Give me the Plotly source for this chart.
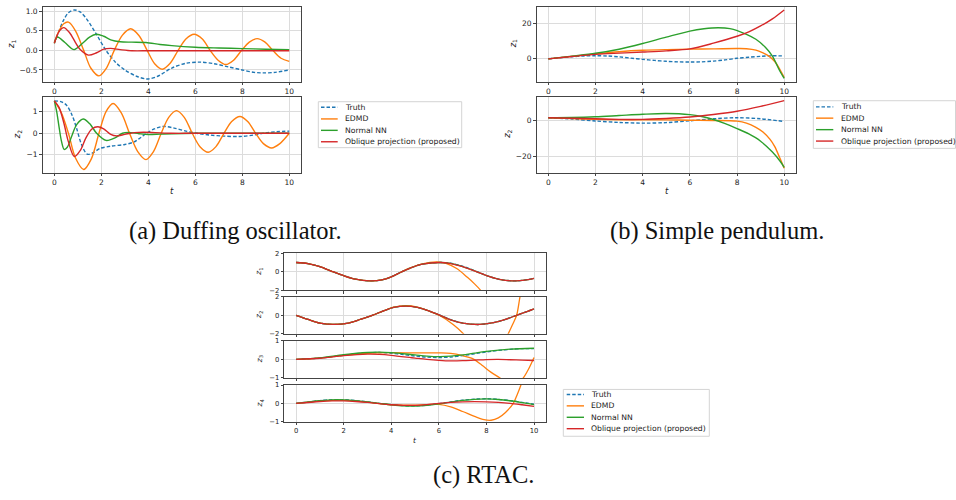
import plotly.graph_objects as go

W, H = 956, 500

BLUE, ORANGE, GREEN, RED = "#1f77b4", "#ff7f0e", "#2ca02c", "#d62728"
series_names = ["Truth", "EDMD", "Normal NN", "Oblique projection (proposed)"]
x_ticks = [0, 2, 4, 6, 8, 10]

# ================= (a) Duffing oscillator =================
a1_truth_t = [0, 0.2, 0.4, 0.6, 0.85, 1.1, 1.4, 1.8, 2.2, 2.6, 3.0, 3.5, 3.95, 4.4, 5.0, 5.6, 6.2, 6.8, 7.4, 8.0, 8.5, 8.9, 9.4, 10]
a1_truth = [0.2, 0.5, 0.78, 0.96, 1.03, 0.98, 0.78, 0.4, 0.0, -0.3, -0.5, -0.66, -0.73, -0.66, -0.45, -0.33, -0.3, -0.34, -0.42, -0.5, -0.56, -0.575, -0.56, -0.5]
a1_edmd_t = [0, 0.2, 0.4, 0.6, 0.9, 1.25, 1.55, 1.9, 2.22, 2.55, 2.9, 3.25, 3.6, 3.95, 4.27, 4.6, 4.93, 5.27, 5.6, 5.95, 6.3, 6.63, 6.97, 7.3, 7.63, 7.97, 8.3, 8.63, 8.97, 9.3, 9.65, 10]
a1_edmd = [0.2, 0.5, 0.68, 0.72, 0.5, 0.0, -0.45, -0.65, -0.45, 0.0, 0.39, 0.55, 0.38, 0.0, -0.34, -0.48, -0.33, 0.0, 0.29, 0.41, 0.29, 0.0, -0.25, -0.36, -0.25, 0.0, 0.21, 0.30, 0.21, 0.0, -0.2, -0.28]
a1_nn_t = [0, 0.13, 0.45, 0.84, 1.2, 1.5, 1.8, 2.1, 2.4, 2.8, 3.3, 3.9, 4.5, 5, 6, 7, 8, 9, 10]
a1_nn = [0.18, 0.34, 0.2, 0.02, 0.18, 0.34, 0.41, 0.36, 0.27, 0.22, 0.21, 0.2, 0.15, 0.12, 0.08, 0.06, 0.045, 0.03, 0.02]
a1_obl_t = [0, 0.2, 0.4, 0.65, 0.9, 1.1, 1.45, 1.8, 2.1, 2.4, 2.8, 3.3, 4, 5, 6, 8, 10]
a1_obl = [0.18, 0.48, 0.58, 0.45, 0.2, 0.02, -0.12, -0.06, 0.03, 0.05, 0.02, -0.01, -0.01, -0.01, -0.01, -0.01, -0.01]

a2_truth_t = [0, 0.3, 0.52, 0.75, 0.95, 1.15, 1.4, 1.65, 1.95, 2.4, 3.0, 3.4, 3.65, 3.93, 4.25, 4.64, 5.1, 5.6, 6.06, 6.6, 7.2, 7.9, 8.5, 9.0, 9.46, 10]
a2_truth = [1.5, 1.46, 1.3, 0.85, 0.22, -0.5, -0.97, -0.9, -0.7, -0.6, -0.52, -0.4, -0.22, 0.0, 0.2, 0.32, 0.24, 0.1, 0.0, -0.08, -0.13, -0.15, -0.08, 0.02, 0.07, 0.1]
a2_edmd_t = [0, 0.3, 0.6, 0.9, 1.25, 1.57, 1.9, 2.2, 2.5, 2.85, 3.2, 3.55, 3.9, 4.22, 4.55, 4.87, 5.2, 5.53, 5.87, 6.2, 6.55, 6.88, 7.22, 7.55, 7.9, 8.23, 8.57, 8.9, 9.25, 9.6, 10]
a2_edmd = [1.5, 0.95, 0.0, -1.15, -1.68, -1.2, 0.0, 1.0, 1.38, 0.95, 0.0, -0.85, -1.22, -0.85, 0.0, 0.74, 1.05, 0.74, 0.0, -0.62, -0.88, -0.62, 0.0, 0.55, 0.78, 0.55, 0.0, -0.48, -0.68, -0.48, 0.0]
a2_nn_t = [0, 0.1, 0.2, 0.3, 0.42, 0.55, 0.75, 0.95, 1.23, 1.5, 1.8, 2.2, 2.6, 2.9, 3.15, 3.6, 4.0, 4.5, 5, 6, 10]
a2_nn = [1.5, 1.0, 0.3, -0.35, -0.75, -0.65, -0.1, 0.4, 0.66, 0.45, 0.0, -0.33, -0.2, 0.0, 0.04, -0.02, -0.06, -0.04, -0.02, 0.0, 0.0]
a2_obl_t = [0, 0.2, 0.4, 0.6, 0.85, 1.1, 1.35, 1.6, 1.85, 2.1, 2.4, 2.65, 3.0, 3.4, 3.8, 4.3, 5, 6, 10]
a2_obl = [1.5, 1.2, 0.5, -0.4, -1.08, -0.8, -0.2, 0.2, 0.3, 0.2, -0.05, -0.12, -0.05, 0.03, 0.05, 0.03, 0.0, 0.0, 0.0]

# ================= (b) Simple pendulum =================
b1_truth_t = [0, 0.5, 1, 1.5, 2, 2.5, 3, 3.5, 4, 4.5, 5, 5.5, 6, 6.5, 7, 7.5, 8, 8.5, 9, 9.5, 10]
b1_truth = [0, 0.6, 1.2, 1.6, 1.75, 1.6, 1.1, 0.4, -0.3, -0.9, -1.4, -1.7, -1.8, -1.7, -1.3, -0.6, 0.3, 0.9, 1.4, 1.7, 1.6]
b1_edmd_t = [0, 1, 2, 3, 4, 5, 6, 7, 8, 8.4, 8.8, 9.1, 9.35, 9.6, 9.82, 10]
b1_edmd = [0, 1.4, 2.8, 4.0, 4.8, 5.2, 5.45, 5.6, 5.8, 5.7, 4.9, 3.3, 1.5, -1.5, -6, -10.5]
b1_nn_t = [0, 1, 2, 3, 4, 5, 6, 6.6, 7.2, 7.7, 8.4, 8.8, 9.2, 9.5, 9.82, 10]
b1_nn = [0, 1.5, 3.1, 5.4, 8.6, 12.2, 15.6, 16.9, 17.5, 17.0, 13.8, 11.0, 6.5, 1.5, -7, -11]
b1_obl_t = [0, 1, 2, 3, 4, 5, 6, 7, 8, 8.5, 9, 9.5, 10]
b1_obl = [0, 1.3, 2.5, 3.2, 3.8, 4.5, 5.6, 8.8, 12.7, 15.2, 18.5, 22.5, 27.5]

b2_truth_t = [0, 1, 2, 3, 4, 5, 6, 7, 8, 9, 10]
b2_truth = [1.5, 0.8, -0.3, -1.1, -1.5, -1.2, -0.2, 0.9, 1.5, 0.9, -0.6]
b2_edmd_t = [0, 1, 2, 3, 4, 5, 6, 7, 8, 8.4, 8.8, 9.1, 9.4, 9.6, 9.82, 10]
b2_edmd = [1.5, 1.0, 0.6, 0.4, 0.4, 0.3, 0.1, 0.0, -0.4, -1.5, -3.8, -6.4, -10.5, -14.5, -21, -26.5]
b2_nn_t = [0, 1, 2, 3, 4, 5, 6, 6.5, 7, 7.5, 8, 8.5, 9, 9.5, 9.82, 10]
b2_nn = [1.5, 1.6, 2.0, 2.7, 3.4, 3.8, 3.2, 2.2, 0.5, -1.8, -4.5, -7.5, -11.5, -17.5, -22.5, -26]
b2_obl_t = [0, 1, 2, 3, 4, 5, 6, 7, 8, 9, 10]
b2_obl = [1.5, 1.2, 0.9, 0.6, 0.6, 1.1, 1.9, 3.3, 5.1, 7.8, 11.0]

# ================= (c) RTAC =================
c1_truth_t = [0, 0.5, 1.0, 1.5, 2.0, 2.5, 3.1, 3.6, 4.0, 4.4, 4.8, 5.3, 6.05, 6.5, 7.0, 7.6, 8.1, 8.6, 9.25, 9.6, 10]
c1_truth = [1.0, 0.88, 0.55, 0.05, -0.42, -0.8, -0.98, -0.88, -0.55, -0.05, 0.4, 0.82, 1.0, 0.93, 0.6, 0.02, -0.48, -0.85, -0.98, -0.9, -0.7]
c1_edmd_t = [0, 0.5, 1.0, 1.5, 2.0, 2.5, 3.1, 3.6, 4.0, 4.4, 4.8, 5.3, 5.9, 6.3, 6.75, 7.2, 7.5, 7.76, 8.0]
c1_edmd = [1.0, 0.88, 0.55, 0.05, -0.42, -0.8, -0.98, -0.88, -0.55, -0.05, 0.42, 0.86, 1.08, 0.92, 0.35, -0.6, -1.3, -2.0, -2.8]
c1_nn_t = [0, 0.5, 1.0, 1.5, 2.0, 2.5, 3.1, 3.6, 4.0, 4.4, 4.8, 5.3, 6.05, 6.5, 7.0, 7.6, 8.1, 8.6, 9.25, 9.6, 10]
c1_nn = [1.0, 0.88, 0.55, 0.05, -0.42, -0.8, -0.98, -0.88, -0.55, -0.05, 0.4, 0.82, 1.0, 0.9, 0.56, 0.0, -0.5, -0.85, -0.98, -0.9, -0.7]
c1_obl_t = [0, 0.5, 1.0, 1.5, 2.0, 2.5, 3.1, 3.6, 4.0, 4.4, 4.8, 5.3, 6.05, 6.5, 7.0, 7.6, 8.1, 8.6, 9.25, 9.6, 10]
c1_obl = [1.0, 0.88, 0.55, 0.05, -0.42, -0.8, -0.98, -0.88, -0.55, -0.05, 0.4, 0.82, 1.0, 0.88, 0.55, 0.0, -0.5, -0.85, -0.98, -0.9, -0.7]

c2_truth_t = [0, 0.5, 1.0, 1.6, 2.2, 2.7, 3.2, 3.7, 4.1, 4.6, 5.1, 5.6, 6.05, 6.5, 7.0, 7.7, 8.3, 8.8, 9.27, 9.7, 10]
c2_truth = [0, -0.45, -0.85, -1.0, -0.85, -0.45, 0.0, 0.5, 0.85, 1.0, 0.85, 0.45, 0.02, -0.48, -0.85, -1.0, -0.8, -0.45, 0.0, 0.4, 0.7]
c2_edmd_t = [0, 0.5, 1.0, 1.6, 2.2, 2.7, 3.2, 3.7, 4.1, 4.6, 5.1, 5.6, 6.05, 6.6, 7.03, 7.5, 8.0, 8.5, 8.92, 9.1, 9.27, 9.41, 9.6]
c2_edmd = [0, -0.45, -0.85, -1.0, -0.85, -0.45, 0.0, 0.5, 0.88, 1.05, 0.9, 0.45, -0.05, -1.0, -2.0, -3.4, -4.4, -4.0, -2.0, -1.0, 0.0, 2.0, 4.5]
c2_nn_t = [0, 0.5, 1.0, 1.6, 2.2, 2.7, 3.2, 3.7, 4.1, 4.6, 5.1, 5.6, 6.05, 6.5, 7.0, 7.7, 8.3, 8.8, 9.27, 9.7, 10]
c2_nn = [0, -0.45, -0.85, -1.0, -0.85, -0.45, 0.0, 0.5, 0.85, 1.0, 0.85, 0.45, 0.0, -0.5, -0.85, -1.0, -0.8, -0.45, 0.0, 0.4, 0.7]
c2_obl_t = [0, 0.5, 1.0, 1.6, 2.2, 2.7, 3.2, 3.7, 4.1, 4.6, 5.1, 5.6, 6.05, 6.5, 7.0, 7.7, 8.3, 8.8, 9.27, 9.7, 10]
c2_obl = [0, -0.45, -0.85, -1.0, -0.85, -0.45, 0.0, 0.5, 0.85, 1.0, 0.85, 0.45, 0.0, -0.5, -0.85, -1.0, -0.8, -0.45, 0.0, 0.4, 0.7]

c3_truth_t = [0, 0.5, 1, 1.5, 2, 2.5, 3, 3.5, 4, 4.5, 5, 5.5, 6, 6.5, 7, 7.5, 8, 8.5, 9, 9.5, 10]
c3_truth = [0, 0.02, 0.07, 0.13, 0.22, 0.3, 0.35, 0.37, 0.33, 0.26, 0.18, 0.12, 0.1, 0.12, 0.2, 0.3, 0.4, 0.48, 0.54, 0.58, 0.58]
c3_edmd_t = [0, 1, 2, 3, 4, 5, 6.05, 6.5, 7.0, 7.4, 7.8, 8.2, 8.57, 9.0, 9.3, 9.55, 9.8, 10]
c3_edmd = [0, 0.07, 0.22, 0.33, 0.36, 0.35, 0.35, 0.32, 0.2, 0.05, -0.3, -0.7, -1.0, -1.4, -1.35, -1.0, -0.45, 0.1]
c3_nn_t = [0, 1, 2, 3, 3.5, 4, 5, 5.5, 6, 6.5, 7, 7.5, 8, 9, 10]
c3_nn = [0, 0.08, 0.25, 0.37, 0.39, 0.36, 0.24, 0.18, 0.15, 0.17, 0.24, 0.34, 0.43, 0.55, 0.6]
c3_obl_t = [0, 1, 2, 3, 3.5, 4, 5, 5.5, 6, 6.5, 7, 7.5, 8, 8.5, 9, 9.5, 10]
c3_obl = [0, 0.06, 0.2, 0.28, 0.27, 0.22, 0.07, 0.0, -0.05, -0.08, -0.07, -0.04, -0.01, 0.0, -0.02, -0.04, -0.06]

c4_truth_t = [0, 0.5, 1, 1.5, 2, 2.5, 3, 3.5, 4, 4.5, 5, 5.5, 6, 6.5, 7, 7.5, 8, 8.5, 9, 9.5, 10]
c4_truth = [0, 0.07, 0.15, 0.2, 0.2, 0.15, 0.08, 0.0, -0.07, -0.13, -0.14, -0.1, -0.02, 0.08, 0.17, 0.23, 0.25, 0.22, 0.15, 0.05, -0.05]
c4_edmd_t = [0, 1, 1.8, 2.5, 3, 3.5, 4, 4.5, 5, 5.5, 6, 6.5, 7, 7.5, 7.9, 8.2, 8.5, 8.8, 9.13, 9.3, 9.45, 9.6]
c4_edmd = [0, 0.12, 0.18, 0.13, 0.06, -0.02, -0.08, -0.1, -0.1, -0.07, -0.06, -0.2, -0.45, -0.72, -0.9, -0.93, -0.8, -0.5, 0.0, 0.5, 1.0, 1.5]
c4_nn_t = [0, 1, 1.5, 2, 2.5, 3, 3.5, 4, 4.5, 5, 5.5, 6, 6.5, 7, 7.5, 8, 8.5, 9, 9.5, 10]
c4_nn = [0, 0.14, 0.19, 0.19, 0.15, 0.08, 0.0, -0.08, -0.14, -0.15, -0.11, -0.03, 0.07, 0.16, 0.22, 0.24, 0.21, 0.14, 0.04, -0.07]
c4_obl_t = [0, 1, 1.5, 2, 2.5, 3, 3.5, 4, 4.5, 5, 5.5, 6, 6.5, 7, 7.5, 8, 8.5, 9, 9.5, 10]
c4_obl = [0, 0.1, 0.13, 0.13, 0.1, 0.05, -0.02, -0.08, -0.11, -0.11, -0.07, 0.0, 0.05, 0.08, 0.09, 0.08, 0.05, 0.0, -0.08, -0.17]

captions = ["(a) Duffing oscillator.", "(b) Simple pendulum.", "(c) RTAC."]

# ================= layout helpers =================
def xd(l, r):
    return [l / W, r / W]

def yd(top, bottom):
    return [1 - bottom / H, 1 - top / H]

def px(x):
    return x / W

def py(y):
    return 1 - y / H

fig = go.Figure()

# subplot specs: (x px left,right), (y px top,bottom), yrange, yticks, yticktext, show x ticklabels, tick font size
subplots = [
    ((42.6, 301), (3.3, 79), [-0.80, 1.10], [-0.5, 0, 0.5, 1.0], ["\u22120.5", "0.0", "0.5", "1.0"], True, 7.5),
    ((42.6, 301), (95, 171.7), [-1.84, 1.66], [-1, 0, 1], ["\u22121", "0", "1"], True, 7.5),
    ((536.5, 796), (3, 79), [-12.9, 29.2], [0, 20], ["0", "20"], True, 7.5),
    ((536.5, 796), (94.3, 171.7), [-29.1, 13.1], [-20, 0], ["\u221220", "0"], True, 7.5),
    ((284.2, 545.9), (253.3, 291), [-2, 2], [-2, 0, 2], ["\u22122", "0", "2"], False, 6.8),
    ((284.2, 545.9), (297.7, 335), [-2, 2], [-2, 0, 2], ["\u22122", "0", "2"], False, 6.8),
    ((284.2, 545.9), (342.3, 380), [-1, 1], [-1, 0, 1], ["\u22121", "0", "1"], False, 6.8),
    ((284.2, 545.9), (387.3, 424.3), [-1, 1], [-1, 0, 1], ["\u22121", "0", "1"], True, 6.8),
]

data_sets = [
    [(a1_truth_t, a1_truth), (a1_edmd_t, a1_edmd), (a1_nn_t, a1_nn), (a1_obl_t, a1_obl)],
    [(a2_truth_t, a2_truth), (a2_edmd_t, a2_edmd), (a2_nn_t, a2_nn), (a2_obl_t, a2_obl)],
    [(b1_truth_t, b1_truth), (b1_edmd_t, b1_edmd), (b1_nn_t, b1_nn), (b1_obl_t, b1_obl)],
    [(b2_truth_t, b2_truth), (b2_edmd_t, b2_edmd), (b2_nn_t, b2_nn), (b2_obl_t, b2_obl)],
    [(c1_truth_t, c1_truth), (c1_edmd_t, c1_edmd), (c1_nn_t, c1_nn), (c1_obl_t, c1_obl)],
    [(c2_truth_t, c2_truth), (c2_edmd_t, c2_edmd), (c2_nn_t, c2_nn), (c2_obl_t, c2_obl)],
    [(c3_truth_t, c3_truth), (c3_edmd_t, c3_edmd), (c3_nn_t, c3_nn), (c3_obl_t, c3_obl)],
    [(c4_truth_t, c4_truth), (c4_edmd_t, c4_edmd), (c4_nn_t, c4_nn), (c4_obl_t, c4_obl)],
]

colors = [BLUE, ORANGE, GREEN, RED]
dashes = ["3.5px,2px", "solid", "solid", "solid"]

layout = dict(
    width=W, height=H, margin=dict(l=0, r=0, t=0, b=0),
    paper_bgcolor="white", plot_bgcolor="white", showlegend=False,
    font=dict(family="DejaVu Sans", color="#222"),
)

for i, (xs, ys, yr, yt, ytt, showx, fs) in enumerate(subplots):
    n = i + 1
    xname = "xaxis" if n == 1 else f"xaxis{n}"
    yname = "yaxis" if n == 1 else f"yaxis{n}"
    xref = "x" if n == 1 else f"x{n}"
    yref = "y" if n == 1 else f"y{n}"
    common = dict(showgrid=True, gridcolor="#dcdcdc", gridwidth=1, zeroline=False,
                  showline=True, mirror=True, linecolor="#444", linewidth=1,
                  ticks="outside", ticklen=2.5, tickcolor="#444", tickwidth=1,
                  tickfont=dict(size=fs, family="DejaVu Sans", color="#222"), fixedrange=True)
    layout[xname] = dict(domain=xd(*xs), anchor=yref, range=[-0.5, 10.5],
                         tickvals=x_ticks, ticktext=[str(v) for v in x_ticks],
                         showticklabels=showx, **common)
    layout[yname] = dict(domain=yd(*ys), anchor=xref, range=yr, tickvals=yt, ticktext=ytt, **common)
    lw = 1.4 if i < 4 else 1.3
    for k, (tt, vv) in enumerate(data_sets[i]):
        fig.add_trace(go.Scatter(
            x=tt, y=vv, mode="lines", name=series_names[k], xaxis=xref, yaxis=yref,
            line=dict(color=colors[k], width=lw, dash=dashes[k], shape="spline", smoothing=0.9),
            hoverinfo="skip", showlegend=False))

annotations = []
shapes = []

# axis labels
ylabels = [
    (11.7, 41, "<i>z</i><sub>1</sub>", 8.5),
    (18.3, 133, "<i>z</i><sub>2</sub>", 8.5),
    (513, 41, "<i>z</i><sub>1</sub>", 8.5),
    (508, 133, "<i>z</i><sub>2</sub>", 8.5),
    (259, 272, "<i>z</i><sub>1</sub>", 7.5),
    (259, 316, "<i>z</i><sub>2</sub>", 7.5),
    (260, 361, "<i>z</i><sub>3</sub>", 7.5),
    (260, 406, "<i>z</i><sub>4</sub>", 7.5),
]
for x, y, txt, fs in ylabels:
    annotations.append(dict(x=px(x), y=py(y), xref="paper", yref="paper", text=txt, showarrow=False,
                            textangle=-90, font=dict(size=fs, family="DejaVu Sans", color="#222"),
                            xanchor="center", yanchor="middle"))
for x, y, fs in [(171.7, 190, 8.5), (666.7, 190, 8.5), (415, 443.5, 7.5)]:
    annotations.append(dict(x=px(x), y=py(y), xref="paper", yref="paper", text="<i>t</i>", showarrow=False,
                            font=dict(size=fs, family="DejaVu Sans", color="#222"),
                            xanchor="center", yanchor="middle"))

# legends (drawn as box + sample lines + labels)
legends = [
    dict(box=(318.3, 99.3, 461.7, 146), rows=[105, 116.8, 128.4, 140], lx=(321, 337.7), tx=343.3),
    dict(box=(813.3, 98.3, 955.5, 146.7), rows=[104.5, 116, 127.7, 139.3], lx=(816, 833.3), tx=838.7),
    dict(box=(563.3, 391.7, 709.3, 439.3), rows=[396.9, 408.4, 420, 431.6], lx=(566.7, 584), tx=589.3),
]
for lg in legends:
    x0, y0, x1, y1 = lg["box"]
    shapes.append(dict(type="rect", xref="paper", yref="paper", x0=px(x0), x1=px(x1), y0=py(y1), y1=py(y0),
                       line=dict(color="#d4d4d4", width=1), fillcolor="rgba(255,255,255,0.85)", layer="above"))
    for k, ry in enumerate(lg["rows"]):
        shapes.append(dict(type="line", xref="paper", yref="paper", x0=px(lg["lx"][0]), x1=px(lg["lx"][1]),
                           y0=py(ry), y1=py(ry), line=dict(color=colors[k], width=1.4, dash=dashes[k]), layer="above"))
        annotations.append(dict(x=px(lg["tx"]), y=py(ry), xref="paper", yref="paper", text=series_names[k],
                                showarrow=False, xanchor="left", yanchor="middle",
                                font=dict(size=7.7, family="DejaVu Sans", color="#222")))

# captions
for (cx, cy), txt in zip([(235.5, 230.5), (717, 230.5), (483, 479)], captions):
    annotations.append(dict(x=px(cx), y=py(cy), xref="paper", yref="paper", text=txt, showarrow=False,
                            xanchor="center", yanchor="middle",
                            font=dict(size=24.5, family="Liberation Serif", color="#111")))

layout["annotations"] = annotations
layout["shapes"] = shapes
fig.update_layout(**layout)
fig.write_html("out.html")
